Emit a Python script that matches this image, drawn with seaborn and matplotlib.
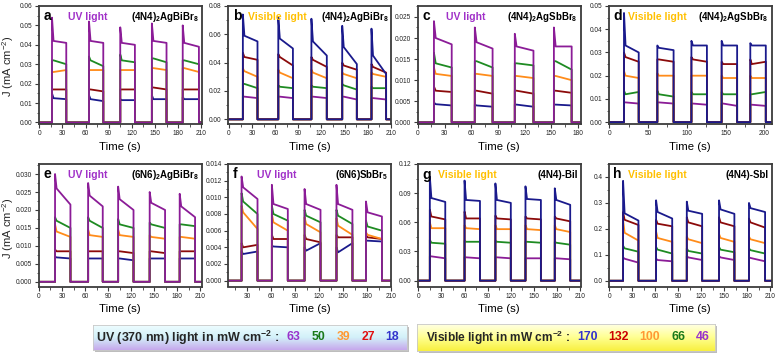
import numpy as np
import pandas as pd
import matplotlib
matplotlib.use("Agg")
import matplotlib.pyplot as plt
import seaborn as sns
from matplotlib.ticker import MultipleLocator, AutoMinorLocator, FormatStrFormatter
from matplotlib.patches import Rectangle
from matplotlib.colors import LinearSegmentedColormap

# ---------------- data ----------------
# each level: list of [spike peak, plateau start, plateau end] per light pulse (mA cm-2)
A_ON = [16.5, 64.5, 105, 146, 186]
A_OFF = [35, 83, 124, 165, 207]
A_LEVELS = {
    63: [[0.054, 0.042, 0.041], [0.052, 0.042, 0.041], [0.049, 0.041, 0.040], [0.051, 0.042, 0.041], [0.050, 0.041, 0.039]],
    50: [[0.032, 0.032, 0.030], [0.034, 0.032, 0.029], [0.035, 0.032, 0.031], [0.033, 0.033, 0.031], [0.032, 0.032, 0.030]],
    39: [[0.026, 0.026, 0.027], [0.027, 0.027, 0.027], [0.027, 0.027, 0.027], [0.028, 0.028, 0.027], [0.028, 0.028, 0.026]],
    27: [[0.017, 0.017, 0.017], [0.017, 0.017, 0.016], [0.017, 0.017, 0.017], [0.018, 0.018, 0.017], [0.017, 0.017, 0.017]],
    18: [[0.015, 0.0125, 0.012], [0.014, 0.012, 0.011], [0.012, 0.0115, 0.0115], [0.014, 0.012, 0.012], [0.013, 0.012, 0.012]],
}
B_ON = [18, 64, 107, 147, 185]
B_OFF = [37, 83, 127, 166, 204]
B_LEVELS = {
    170: [[0.074, 0.059, 0.055], [0.072, 0.057, 0.050], [0.071, 0.055, 0.045], [0.066, 0.051, 0.039], [0.064, 0.045, 0.032]],
    132: [[0.047, 0.044, 0.042], [0.046, 0.044, 0.038], [0.044, 0.042, 0.037], [0.040, 0.038, 0.035], [0.039, 0.037, 0.033]],
    100: [[0.036, 0.034, 0.030], [0.035, 0.033, 0.029], [0.035, 0.033, 0.029], [0.033, 0.032, 0.029], [0.033, 0.032, 0.030]],
    66: [[0.025, 0.025, 0.022], [0.024, 0.023, 0.022], [0.024, 0.023, 0.022], [0.025, 0.024, 0.021], [0.023, 0.022, 0.022]],
    46: [[0.016, 0.016, 0.015], [0.016, 0.016, 0.015], [0.016, 0.016, 0.015], [0.016, 0.016, 0.014], [0.015, 0.015, 0.014]],
}
C_ON = [18, 64, 109, 153]
C_OFF = [38, 84, 130, 173]
C_LEVELS = {
    63: [[0.024, 0.020, 0.0185], [0.0225, 0.019, 0.0175], [0.021, 0.018, 0.017], [0.0225, 0.018, 0.018]],
    50: [[0.0165, 0.014, 0.013], [0.0145, 0.0145, 0.013], [0.014, 0.014, 0.0135], [0.0145, 0.0145, 0.0125]],
    39: [[0.013, 0.0115, 0.011], [0.0115, 0.0115, 0.011], [0.011, 0.011, 0.0105], [0.011, 0.011, 0.010]],
    27: [[0.0085, 0.0075, 0.0072], [0.0075, 0.0075, 0.0068], [0.0075, 0.0075, 0.0068], [0.0075, 0.0075, 0.007]],
    18: [[0.0047, 0.0043, 0.004], [0.0042, 0.004, 0.0037], [0.0042, 0.0042, 0.0037], [0.0042, 0.0042, 0.004]],
}
D_ON = [19, 62, 106, 145, 182]
D_OFF = [38, 83, 126, 165, 202]
D_LEVELS = {
    170: [[0.047, 0.033, 0.030], [0.033, 0.032, 0.031], [0.035, 0.033, 0.033], [0.035, 0.033, 0.033], [0.034, 0.033, 0.033]],
    132: [[0.030, 0.028, 0.026], [0.027, 0.027, 0.026], [0.028, 0.027, 0.026], [0.026, 0.025, 0.025], [0.027, 0.025, 0.026]],
    100: [[0.022, 0.020, 0.019], [0.021, 0.020, 0.020], [0.020, 0.020, 0.020], [0.020, 0.019, 0.019], [0.020, 0.019, 0.019]],
    66: [[0.0135, 0.012, 0.013], [0.0135, 0.012, 0.011], [0.013, 0.012, 0.012], [0.013, 0.012, 0.012], [0.012, 0.012, 0.013]],
    46: [[0.0085, 0.0085, 0.008], [0.0085, 0.0085, 0.008], [0.008, 0.008, 0.0075], [0.008, 0.008, 0.007], [0.0075, 0.0075, 0.007]],
}
E_ON = [21, 64, 103, 144, 183]
E_OFF = [41, 83, 123, 164, 203]
E_LEVELS = {
    63: [[0.030, 0.026, 0.0215], [0.0275, 0.024, 0.021], [0.0265, 0.023, 0.020], [0.025, 0.022, 0.020], [0.0245, 0.021, 0.018]],
    50: [[0.018, 0.017, 0.015], [0.018, 0.017, 0.015], [0.0175, 0.016, 0.015], [0.0165, 0.016, 0.015], [0.016, 0.016, 0.0155]],
    39: [[0.016, 0.014, 0.0125], [0.0145, 0.013, 0.0125], [0.0145, 0.013, 0.0125], [0.013, 0.0125, 0.012], [0.0125, 0.0125, 0.012]],
    27: [[0.009, 0.0085, 0.0085], [0.0085, 0.0085, 0.0085], [0.0085, 0.0085, 0.008], [0.0085, 0.0085, 0.008], [0.0085, 0.0085, 0.0085]],
    18: [[0.007, 0.0068, 0.0065], [0.0065, 0.0065, 0.0065], [0.0065, 0.0065, 0.006], [0.0065, 0.0065, 0.0065], [0.0065, 0.0065, 0.0065]],
}
F_ON = [23, 61, 102, 142, 179]
F_OFF = [43, 81, 122, 162, 199]
F_LEVELS = {
    63: [[0.0125, 0.0112, 0.0098], [0.0115, 0.0092, 0.0086], [0.011, 0.0092, 0.0085], [0.0115, 0.0092, 0.0085], [0.0095, 0.0082, 0.0077]],
    50: [[0.0105, 0.0095, 0.0080], [0.0090, 0.0080, 0.0072], [0.0085, 0.0078, 0.0070], [0.0085, 0.0078, 0.0068], [0.0072, 0.0065, 0.0060]],
    39: [[0.0090, 0.0082, 0.0062], [0.0080, 0.0070, 0.0060], [0.0076, 0.0068, 0.0058], [0.0075, 0.0066, 0.0055], [0.0058, 0.0055, 0.0050]],
    27: [[0.0045, 0.0040, 0.0043], [0.0055, 0.0050, 0.0050], [0.0055, 0.0050, 0.0046], [0.0055, 0.0052, 0.0052], [0.0055, 0.0052, 0.0050]],
    18: [[0.0035, 0.0032, 0.0035], [0.0042, 0.0041, 0.0040], [0.0040, 0.0036, 0.0045], [0.0040, 0.0034, 0.0045], [0.0048, 0.0048, 0.0047]],
}
G_ON = [15, 60, 100, 139, 177]
G_OFF = [35, 80, 120, 159, 197]
G_LEVELS = {
    170: [[0.107, 0.085, 0.081], [0.103, 0.083, 0.082], [0.100, 0.083, 0.080], [0.097, 0.084, 0.083], [0.095, 0.083, 0.078]],
    132: [[0.073, 0.066, 0.063], [0.071, 0.064, 0.064], [0.067, 0.064, 0.063], [0.066, 0.064, 0.063], [0.066, 0.064, 0.061]],
    100: [[0.060, 0.054, 0.054], [0.057, 0.054, 0.053], [0.057, 0.053, 0.053], [0.057, 0.053, 0.052], [0.057, 0.053, 0.050]],
    66: [[0.042, 0.039, 0.038], [0.041, 0.040, 0.040], [0.041, 0.040, 0.039], [0.040, 0.040, 0.039], [0.040, 0.039, 0.037]],
    46: [[0.025, 0.025, 0.023], [0.024, 0.024, 0.023], [0.024, 0.024, 0.023], [0.023, 0.023, 0.023], [0.023, 0.023, 0.022]],
}
H_ON = [18, 61, 101, 143, 182]
H_OFF = [38, 82, 121, 163, 203]
H_LEVELS = {
    170: [[0.385, 0.26, 0.232], [0.31, 0.265, 0.24], [0.305, 0.27, 0.258], [0.31, 0.275, 0.258], [0.30, 0.28, 0.265]],
    132: [[0.265, 0.235, 0.215], [0.235, 0.22, 0.21], [0.245, 0.225, 0.21], [0.245, 0.225, 0.21], [0.24, 0.225, 0.205]],
    100: [[0.235, 0.185, 0.155], [0.19, 0.165, 0.15], [0.17, 0.16, 0.145], [0.18, 0.165, 0.15], [0.17, 0.16, 0.145]],
    66: [[0.135, 0.125, 0.112], [0.13, 0.12, 0.105], [0.125, 0.115, 0.105], [0.13, 0.12, 0.11], [0.125, 0.118, 0.105]],
    46: [[0.09, 0.085, 0.07], [0.085, 0.08, 0.075], [0.095, 0.09, 0.08], [0.095, 0.09, 0.08], [0.09, 0.088, 0.075]],
}
UV_INTENSITY = [63, 50, 39, 27, 18]
VIS_INTENSITY = [170, 132, 100, 66, 46]
COMPOUNDS = [r"$\mathbf{(4N4)_2AgBiBr_8}$", r"$\mathbf{(4N4)_2AgBiBr_8}$",
             r"$\mathbf{(4N4)_2AgSbBr_8}$", r"$\mathbf{(4N4)_2AgSbBr_8}$",
             r"$\mathbf{(6N6)_2AgBiBr_8}$", r"$\mathbf{(6N6)SbBr_5}$",
             "(4N4)-BiI", "(4N4)-SbI"]
LETTERS = list("abcdefgh")
LIGHT = ["UV light", "Visible light", "UV light", "Visible light",
         "UV light", "UV light", "Visible light", "Visible light"]

# ---------------- style ----------------
sns.set_style("ticks")
plt.rcParams['font.family'] = ['Liberation Sans', 'DejaVu Sans']
plt.rcParams['mathtext.fontset'] = 'custom'
plt.rcParams['mathtext.rm'] = 'Liberation Sans'
plt.rcParams['mathtext.bf'] = 'Liberation Sans:bold'
plt.rcParams['mathtext.it'] = 'Liberation Sans:italic'
plt.rcParams['mathtext.default'] = 'regular'

W, H = 779, 354
fig = plt.figure(figsize=(W / 100, H / 100), dpi=100)

PURPLE = '#8B1C97'; GREEN = '#1E8B22'; ORANGE = '#FF8C1A'; DARKRED = '#8B0A0A'; NAVY = '#1A1A8C'
UV_COL = {63: PURPLE, 50: GREEN, 39: ORANGE, 27: DARKRED, 18: NAVY}
VIS_COL = {170: NAVY, 132: DARKRED, 100: ORANGE, 66: GREEN, 46: PURPLE}
SPINE = '#3c3c3c'


def fx(px):
    return px / W


def fy(py):
    return 1 - py / H


def build_df(on, off, levels, xmax, knee=2.0):
    rows = []
    for lvl, vals in levels.items():
        xs = [0.0]; ys = [0.0]
        for t0, t1, (pk, st, en) in zip(on, off, vals):
            xs += [t0, t0, t0 + knee, t1, t1]
            ys += [0.0, pk, st, en, 0.0]
        xs.append(xmax); ys.append(0.0)
        rows += [(x, y, str(lvl)) for x, y in zip(xs, ys)]
    return pd.DataFrame(rows, columns=["t", "J", "lvl"])


cols_left = [38.5, 228, 417.5, 608.5]
width_px = 163.5
rows_top = [(6, 124), (164, 286.5)]

panels = [
    dict(on=A_ON, off=A_OFF, lv=A_LEVELS, uv=True, xlim=(-1, 211), xt=30, ylim=(-0.0008, 0.06), yt=0.01, fmt='%.2f'),
    dict(on=B_ON, off=B_OFF, lv=B_LEVELS, uv=False, xlim=(-1.3, 211), xt=30, ylim=(-0.0033, 0.08), yt=0.02, fmt='%.2f'),
    dict(on=C_ON, off=C_OFF, lv=C_LEVELS, uv=True, xlim=(-0.5, 183.5), xt=30, ylim=(-0.0004, 0.0276), yt=0.005, fmt='%.3f'),
    dict(on=D_ON, off=D_OFF, lv=D_LEVELS, uv=False, xlim=(-1, 210), xt=50, ylim=(-0.0008, 0.05), yt=0.01, fmt='%.2f'),
    dict(on=E_ON, off=E_OFF, lv=E_LEVELS, uv=True, xlim=(-0.5, 212), xt=30, ylim=(-0.0013, 0.0328), yt=0.005, fmt='%.3f'),
    dict(on=F_ON, off=F_OFF, lv=F_LEVELS, uv=True, xlim=(6, 211), xt=30, ylim=(-0.0007, 0.014), yt=0.002, fmt='%.3f'),
    dict(on=G_ON, off=G_OFF, lv=G_LEVELS, uv=False, xlim=(-1, 211), xt=30, ylim=(-0.006, 0.12), yt=0.03, fmt='%.2f'),
    dict(on=H_ON, off=H_OFF, lv=H_LEVELS, uv=False, xlim=(-1, 212), xt=30, ylim=(-0.022, 0.45), yt=0.1, fmt='%.1f'),
]

for i, p in enumerate(panels):
    r, c = divmod(i, 4)
    top, bot = rows_top[r]
    left = cols_left[c]
    ax = fig.add_axes([fx(left), fy(bot), width_px / W, (bot - top) / H])
    colmap = UV_COL if p['uv'] else VIS_COL
    order = sorted(p['lv'].keys())
    df = build_df(p['on'], p['off'], p['lv'], p['xlim'][1])
    sns.lineplot(data=df, x="t", y="J", hue="lvl", hue_order=[str(o) for o in order],
                 palette={str(k): v for k, v in colmap.items()}, sort=False,
                 estimator=None, legend=False, lw=1.3, ax=ax)
    ax.set_xlim(*p['xlim'])
    ax.set_ylim(*p['ylim'])
    ax.xaxis.set_major_locator(MultipleLocator(p['xt']))
    ax.xaxis.set_minor_locator(AutoMinorLocator(2))
    ax.yaxis.set_major_locator(MultipleLocator(p['yt']))
    ax.yaxis.set_minor_locator(AutoMinorLocator(2))
    ax.yaxis.set_major_formatter(FormatStrFormatter(p['fmt']))
    ax.set_xlabel(""); ax.set_ylabel("")
    for s in ax.spines.values():
        s.set_visible(True); s.set_color(SPINE); s.set_linewidth(1.3)
    ax.tick_params(axis='both', which='major', direction='out', length=3, width=0.8,
                   colors=SPINE, labelsize=4.7, pad=1.5, labelcolor='#222222')
    ax.tick_params(axis='both', which='minor', direction='out', length=1.8, width=0.6, colors=SPINE)
    right = left + width_px
    fig.text(fx(left + 5), fy(top + 10.5), LETTERS[i], fontsize=10, fontweight='bold',
             ha='left', va='center', color='black')
    off_l = 29 if p['uv'] else 20
    fig.text(fx(left + off_l), fy(top + 10.5), LIGHT[i], fontsize=7.5, fontweight='bold',
             ha='left', va='center', color='#A030C8' if p['uv'] else '#FFC000')
    fig.text(fx(right - 3), fy(top + 10.5), COMPOUNDS[i], fontsize=7, fontweight='bold',
             ha='right', va='center', color='black')
    fig.text(fx(left + width_px / 2), fy(bot + 23), "Time (s)", fontsize=8.2,
             ha='center', va='center', color='black')

fig.text(fx(8.5), fy(66), r"J (mA cm$^{-2}$)", rotation=90, fontsize=8, ha='center', va='center')
fig.text(fx(8.5), fy(228), r"J (mA cm$^{-2}$)", rotation=90, fontsize=8, ha='center', va='center')


# ---------------- legend boxes ----------------
def grad_box(x0, y0, x1, y1, colors):
    sax = fig.add_axes([fx(x0 + 2), fy(y1 + 2), (x1 - x0) / W, (y1 - y0) / H], zorder=1)
    sax.set_facecolor('#bdbdbd')
    sax.set_xticks([]); sax.set_yticks([])
    for s in sax.spines.values():
        s.set_visible(False)
    bax = fig.add_axes([fx(x0), fy(y1), (x1 - x0) / W, (y1 - y0) / H], zorder=2)
    cmap = LinearSegmentedColormap.from_list("g", colors)
    grad = np.linspace(0, 1, 64).reshape(-1, 1)
    bax.imshow(grad, aspect='auto', cmap=cmap, extent=[0, 1, 0, 1], origin='upper',
               interpolation='bilinear')
    bax.set_xticks([]); bax.set_yticks([])
    for s in bax.spines.values():
        s.set_color('#c8c8c8'); s.set_linewidth(0.6)
    return bax


uvb = grad_box(93, 325, 407, 350, ['#eefdff', '#d2f0f9', '#c6a8ec'])
visb = grad_box(417, 324, 715, 351, ['#ffffe4', '#ffff90', '#f8f040'])

ymid = 337.5
t = fig.text(fx(96), fy(ymid), r"UV (370 nm) light in mW cm$^{\mathbf{-2}}$ :", fontsize=9,
             fontweight='bold', ha='left', va='center', zorder=5)
UV_TXT_COL = ['#9933CC', '#1A7A1A', '#FF9933', '#E01010', '#3333CC']
for val, xc, col in zip(UV_INTENSITY, [293.5, 318.5, 343, 368, 392], UV_TXT_COL):
    fig.text(fx(xc), fy(ymid), str(val), fontsize=8.8, fontweight='bold', color=col,
             ha='center', va='center', zorder=5)
fig.text(fx(426), fy(ymid), r"Visible light in mW cm$^{\mathbf{-2}}$ :", fontsize=8.6,
         fontweight='bold', ha='left', va='center', zorder=5)
VIS_TXT_COL = ['#3333CC', '#CC0000', '#FF9933', '#1A7A1A', '#9933CC']
for val, xc, col in zip(VIS_INTENSITY, [588, 618.5, 650, 678.5, 702.5], VIS_TXT_COL):
    fig.text(fx(xc), fy(ymid), str(val), fontsize=8.8, fontweight='bold', color=col,
             ha='center', va='center', zorder=5)

fig.savefig("out.png", dpi=100)
